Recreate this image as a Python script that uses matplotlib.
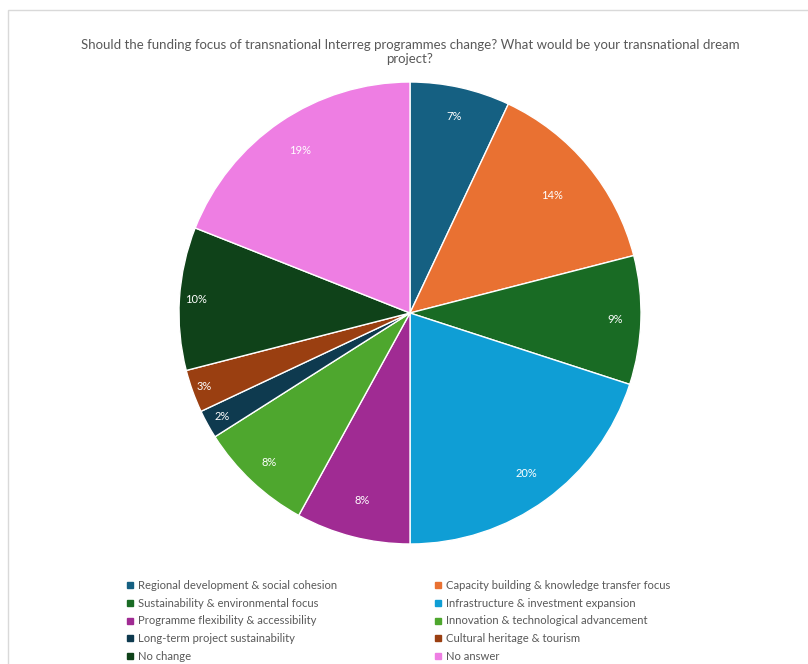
import matplotlib.pyplot as plt
import numpy as np
from matplotlib.lines import Line2D
from matplotlib.patches import Rectangle

plt.rcParams["font.family"] = ["Lato", "DejaVu Sans"]

categories = [
    "Regional development & social cohesion",
    "Capacity building & knowledge transfer focus",
    "Sustainability & environmental focus",
    "Infrastructure & investment expansion",
    "Programme flexibility & accessibility",
    "Innovation & technological advancement",
    "Long-term project sustainability",
    "Cultural heritage & tourism",
    "No change",
    "No answer",
]
shares = [7, 14, 9, 20, 8, 8, 2, 3, 10, 19]
colors = ["#156082", "#e97132", "#196b24", "#0f9ed5", "#a02b93",
          "#4ea72e", "#0e3a4f", "#9a3f11", "#0f4219", "#ee7ee3"]
# where each percentage label sits, as a fraction of the radius (Excel "best fit")
label_radius = [0.87, 0.80, 0.89, 0.86, 0.84, 0.89, 0.93, 0.945, 0.93, 0.85]

W, H = 808, 664
fig = plt.figure(figsize=(W / 100, H / 100), dpi=100)

# light frame like the original screenshot
fig.add_artist(Rectangle((8 / W, -0.01), 1.0, 1 - 10 / H + 0.01,
                         transform=fig.transFigure, fill=False,
                         edgecolor="#d9d9d9", linewidth=1))

cx, cy, r = 410, 313, 231
ax = fig.add_axes([(cx - r) / W, 1 - (cy + r) / H, 2 * r / W, 2 * r / H])
wedges, texts = ax.pie(
    shares, colors=colors, startangle=90, counterclock=False, radius=1,
    wedgeprops=dict(edgecolor="white", linewidth=1))

for w, val, rr in zip(wedges, shares, label_radius):
    ang = np.deg2rad((w.theta1 + w.theta2) / 2)
    ax.text(rr * np.cos(ang), rr * np.sin(ang), f"{val}%", color="white",
            fontsize=8, ha="center", va="center")

ax.set_xlim(-1, 1)
ax.set_ylim(-1, 1)
ax.set_aspect("equal")
ax.axis("off")

fig.text(cx / W, 1 - 39 / H,
         "Should the funding focus of transnational Interreg programmes change? What would be your transnational dream\nproject?",
         ha="center", va="top", fontsize=9.5, color="#595959", linespacing=1.2)

def make_legend(idx, x):
    handles = [Line2D([], [], marker="s", linestyle="none", markersize=4,
                      color=colors[i]) for i in idx]
    leg = fig.legend(handles, [categories[i] for i in idx],
                     loc="upper left", bbox_to_anchor=(x / W, 1 - 580 / H),
                     frameon=False, fontsize=8.1, labelcolor="#595959",
                     handlelength=0.6, handletextpad=0.35, labelspacing=0.6,
                     borderpad=0, borderaxespad=0)
    return leg

make_legend([0, 2, 4, 6, 8], 127)
make_legend([1, 3, 5, 7, 9], 435)

fig.savefig("out.png", dpi=100)
